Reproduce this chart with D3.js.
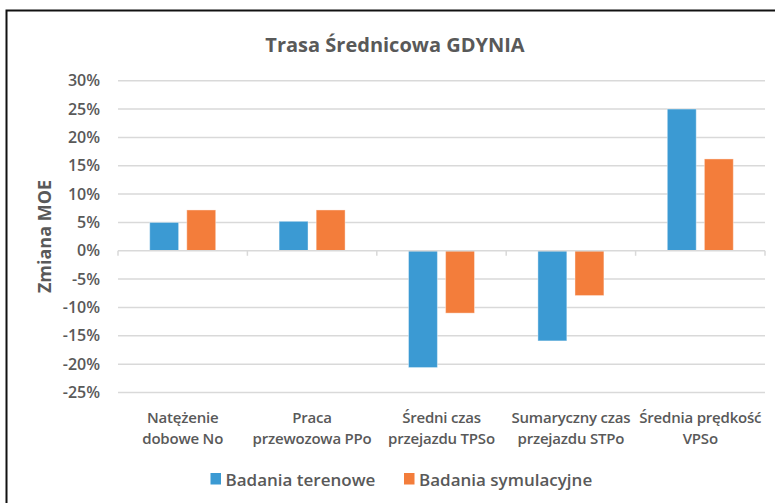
<!DOCTYPE html>
<html>
<head>
<meta charset="utf-8">
<script src="https://cdn.jsdelivr.net/npm/d3@7"></script>
<style>
  body { margin: 0; background: #fff; }
  text { font-family: "Open Sans", sans-serif; fill: #595959; }
</style>
</head>
<body>
<svg id="chart" width="775" height="503"></svg>
<script>
const categories = [
  ["Natężenie", "dobowe No"],
  ["Praca", "przewozowa PPo"],
  ["Średni czas", "przejazdu TPSo"],
  ["Sumaryczny czas", "przejazdu STPo"],
  ["Średnia prędkość", "VPSo"]
];
const seriesNames = ["Badania terenowe", "Badania symulacyjne"];
const terenowe = [0.050, 0.052, -0.206, -0.159, 0.250];
const symulacyjne = [0.072, 0.072, -0.110, -0.079, 0.162];
const yTicks = [0.30, 0.25, 0.20, 0.15, 0.10, 0.05, 0, -0.05, -0.10, -0.15, -0.20, -0.25];
const colors = ["#3b9ad3", "#f37d3b"];

const svg = d3.select("#chart");

// outer frame (only top and left edges are visible in the picture)
svg.append("rect")
  .attr("x", 6.5).attr("y", 10.5)
  .attr("width", 800).attr("height", 600)
  .attr("fill", "none")
  .attr("stroke", "#111")
  .attr("stroke-width", 2);

const left = 118, right = 765;
const y = d3.scaleLinear().domain([-0.25, 0.30]).range([392.5, 80.7]);
const x0 = d3.scaleBand().domain(d3.range(categories.length)).range([left, right]);
const x1 = d3.scaleBand().domain([0, 1]).range([x0.bandwidth() / 2 - 33, x0.bandwidth() / 2 + 33]).paddingInner(0.22);
const pct = (d) => Math.round(d * 100) + "%"; // plain hyphen like the original

// gridlines
svg.append("g")
  .selectAll("line")
  .data(yTicks.filter((d) => d !== 0))
  .enter()
  .append("line")
  .attr("x1", left).attr("x2", right)
  .attr("y1", (d) => y(d)).attr("y2", (d) => y(d))
  .attr("stroke", "#d9d9d9")
  .attr("stroke-width", 1.5);

// y tick labels
svg.append("g")
  .selectAll("text")
  .data(yTicks)
  .enter()
  .append("text")
  .attr("x", 100)
  .attr("y", (d) => y(d) + 5.5)
  .attr("text-anchor", "end")
  .attr("font-size", 16)
  .attr("font-weight", 600)
  .text(pct);

// bars
const data = categories.map((c, i) => [terenowe[i], symulacyjne[i]]);
const groups = svg.append("g")
  .selectAll("g")
  .data(data)
  .enter()
  .append("g")
  .attr("transform", (d, i) => `translate(${x0(i)},0)`);
groups.selectAll("rect")
  .data((d) => d)
  .enter()
  .append("rect")
  .attr("x", (d, j) => x1(j))
  .attr("width", x1.bandwidth())
  .attr("y", (d) => y(Math.max(0, d)))
  .attr("height", (d) => Math.abs(y(d) - y(0)))
  .attr("fill", (d, j) => colors[j])
  .attr("stroke", "#fff")
  .attr("stroke-opacity", 0.4)
  .attr("stroke-width", 1);

// zero axis with category ticks
svg.append("line")
  .attr("x1", left).attr("x2", right)
  .attr("y1", y(0)).attr("y2", y(0))
  .attr("stroke", "#d9d9d9")
  .attr("stroke-width", 1.5);
svg.append("g")
  .selectAll("line")
  .data(d3.range(categories.length + 1))
  .enter()
  .append("line")
  .attr("x1", (i) => left + i * x0.step())
  .attr("x2", (i) => left + i * x0.step())
  .attr("y1", y(0)).attr("y2", y(0) + 5)
  .attr("stroke", "#d9d9d9")
  .attr("stroke-width", 1.5);

// category labels
const catLabels = svg.append("g")
  .selectAll("text")
  .data(categories)
  .enter()
  .append("text")
  .attr("x", (d, i) => x0(i) + x0.bandwidth() / 2)
  .attr("y", 422.5)
  .attr("text-anchor", "middle")
  .attr("font-size", 15)
  .attr("font-weight", 600)
  .attr("letter-spacing", -0.2);
catLabels.selectAll("tspan")
  .data((d) => d)
  .enter()
  .append("tspan")
  .attr("x", function () { return d3.select(this.parentNode).attr("x"); })
  .attr("dy", (d, k) => (k === 0 ? 0 : 21.5))
  .text((d) => d);

// title
svg.append("text")
  .attr("x", 395)
  .attr("y", 52)
  .attr("text-anchor", "middle")
  .attr("font-size", 20)
  .attr("font-weight", 700)
  .text("Trasa Średnicowa GDYNIA");

// y axis title
svg.append("text")
  .attr("transform", "translate(50.5,236.5) rotate(-90)")
  .attr("text-anchor", "middle")
  .attr("font-size", 18)
  .attr("font-weight", 700)
  .text("Zmiana MOE");

// legend
const legendX = [210.5, 404];
const legend = svg.append("g")
  .selectAll("g")
  .data(seriesNames)
  .enter()
  .append("g")
  .attr("transform", (d, i) => `translate(${legendX[i]},473)`);
legend.append("rect")
  .attr("width", 10.5).attr("height", 11.5)
  .attr("fill", (d, i) => colors[i]);
legend.append("text")
  .attr("x", 15)
  .attr("y", 12.5)
  .attr("font-size", 17)
  .attr("font-weight", 600)
  .text((d) => d);
</script>
</body>
</html>
